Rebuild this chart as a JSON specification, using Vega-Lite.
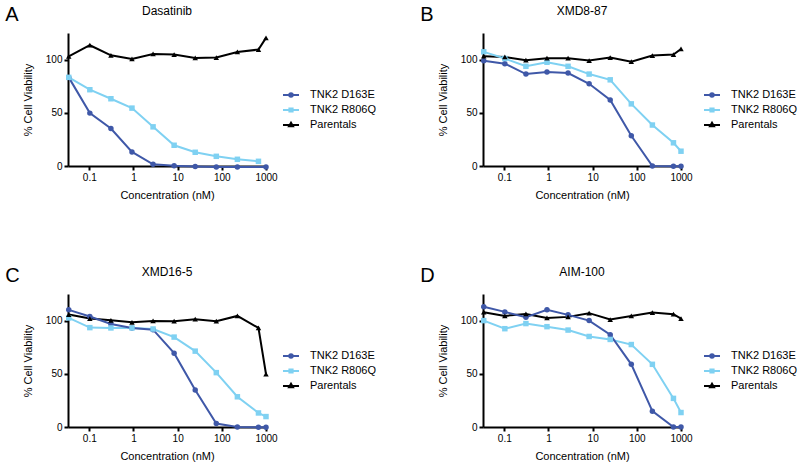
{
"$schema": "https://vega.github.io/schema/vega-lite/v6.json",
"background": "white",
"config": {
  "font": "Liberation Sans",
  "view": {"stroke": null},
  "axis": {"domainColor": "black", "domainWidth": 2, "tickColor": "black", "tickWidth": 2, "tickSize": 4, "labelFont": "Liberation Sans", "labelFontSize": 10, "labelColor": "black", "labelPadding": 2, "labelFlush": false, "titleFont": "Liberation Sans", "titleFontSize": 11, "titleFontWeight": "normal", "titleColor": "black", "grid": false},
  "axisX": {"titlePadding": 7},
  "axisY": {"titlePadding": 12},
  "title": {"font": "Liberation Sans", "fontWeight": "normal", "color": "black"},
  "legend": {"labelFont": "Liberation Sans", "labelFontSize": 11, "labelColor": "black"}
},
"datasets": {
  "rows": [
    {"drug":"Dasatinib","series":"Parentals","conc":0.0343,"viability":103},
    {"drug":"Dasatinib","series":"Parentals","conc":0.103,"viability":113.5},
    {"drug":"Dasatinib","series":"Parentals","conc":0.309,"viability":104},
    {"drug":"Dasatinib","series":"Parentals","conc":0.926,"viability":100.6},
    {"drug":"Dasatinib","series":"Parentals","conc":2.78,"viability":105.3},
    {"drug":"Dasatinib","series":"Parentals","conc":8.33,"viability":104.7},
    {"drug":"Dasatinib","series":"Parentals","conc":25,"viability":101.6},
    {"drug":"Dasatinib","series":"Parentals","conc":75,"viability":101.9},
    {"drug":"Dasatinib","series":"Parentals","conc":225,"viability":107.2},
    {"drug":"Dasatinib","series":"Parentals","conc":675,"viability":109.4},
    {"drug":"Dasatinib","series":"Parentals","conc":1000,"viability":120.4},
    {"drug":"Dasatinib","series":"TNK2 R806Q","conc":0.0343,"viability":83.3},
    {"drug":"Dasatinib","series":"TNK2 R806Q","conc":0.103,"viability":71.7},
    {"drug":"Dasatinib","series":"TNK2 R806Q","conc":0.309,"viability":63.2},
    {"drug":"Dasatinib","series":"TNK2 R806Q","conc":0.926,"viability":54.4},
    {"drug":"Dasatinib","series":"TNK2 R806Q","conc":2.78,"viability":36.8},
    {"drug":"Dasatinib","series":"TNK2 R806Q","conc":8.33,"viability":19.5},
    {"drug":"Dasatinib","series":"TNK2 R806Q","conc":25,"viability":12.9},
    {"drug":"Dasatinib","series":"TNK2 R806Q","conc":75,"viability":9.1},
    {"drug":"Dasatinib","series":"TNK2 R806Q","conc":225,"viability":6.3},
    {"drug":"Dasatinib","series":"TNK2 R806Q","conc":675,"viability":4.4},
    {"drug":"Dasatinib","series":"TNK2 D163E","conc":0.0343,"viability":83.3},
    {"drug":"Dasatinib","series":"TNK2 D163E","conc":0.103,"viability":49.7},
    {"drug":"Dasatinib","series":"TNK2 D163E","conc":0.309,"viability":35.2},
    {"drug":"Dasatinib","series":"TNK2 D163E","conc":0.926,"viability":13.2},
    {"drug":"Dasatinib","series":"TNK2 D163E","conc":2.78,"viability":1.6},
    {"drug":"Dasatinib","series":"TNK2 D163E","conc":8.33,"viability":0.3},
    {"drug":"Dasatinib","series":"TNK2 D163E","conc":25,"viability":-0.5},
    {"drug":"Dasatinib","series":"TNK2 D163E","conc":75,"viability":-1},
    {"drug":"Dasatinib","series":"TNK2 D163E","conc":225,"viability":-1},
    {"drug":"Dasatinib","series":"TNK2 D163E","conc":1000,"viability":-1},
    {"drug":"XMD8-87","series":"Parentals","conc":0.0343,"viability":103.2},
    {"drug":"XMD8-87","series":"Parentals","conc":0.103,"viability":102.5},
    {"drug":"XMD8-87","series":"Parentals","conc":0.309,"viability":99.4},
    {"drug":"XMD8-87","series":"Parentals","conc":0.926,"viability":101.3},
    {"drug":"XMD8-87","series":"Parentals","conc":2.78,"viability":101.3},
    {"drug":"XMD8-87","series":"Parentals","conc":8.33,"viability":99.1},
    {"drug":"XMD8-87","series":"Parentals","conc":25,"viability":101.9},
    {"drug":"XMD8-87","series":"Parentals","conc":75,"viability":98.1},
    {"drug":"XMD8-87","series":"Parentals","conc":225,"viability":103.8},
    {"drug":"XMD8-87","series":"Parentals","conc":675,"viability":104.7},
    {"drug":"XMD8-87","series":"Parentals","conc":1000,"viability":110},
    {"drug":"XMD8-87","series":"TNK2 R806Q","conc":0.0343,"viability":107.3},
    {"drug":"XMD8-87","series":"TNK2 R806Q","conc":0.103,"viability":101},
    {"drug":"XMD8-87","series":"TNK2 R806Q","conc":0.309,"viability":93.7},
    {"drug":"XMD8-87","series":"TNK2 R806Q","conc":0.926,"viability":97.5},
    {"drug":"XMD8-87","series":"TNK2 R806Q","conc":2.78,"viability":93.7},
    {"drug":"XMD8-87","series":"TNK2 R806Q","conc":8.33,"viability":86.4},
    {"drug":"XMD8-87","series":"TNK2 R806Q","conc":25,"viability":81},
    {"drug":"XMD8-87","series":"TNK2 R806Q","conc":75,"viability":58.4},
    {"drug":"XMD8-87","series":"TNK2 R806Q","conc":225,"viability":38.5},
    {"drug":"XMD8-87","series":"TNK2 R806Q","conc":675,"viability":21.8},
    {"drug":"XMD8-87","series":"TNK2 R806Q","conc":1000,"viability":13.9},
    {"drug":"XMD8-87","series":"TNK2 D163E","conc":0.0343,"viability":99},
    {"drug":"XMD8-87","series":"TNK2 D163E","conc":0.103,"viability":96.2},
    {"drug":"XMD8-87","series":"TNK2 D163E","conc":0.309,"viability":86.4},
    {"drug":"XMD8-87","series":"TNK2 D163E","conc":0.926,"viability":88.3},
    {"drug":"XMD8-87","series":"TNK2 D163E","conc":2.78,"viability":87.4},
    {"drug":"XMD8-87","series":"TNK2 D163E","conc":8.33,"viability":77.3},
    {"drug":"XMD8-87","series":"TNK2 D163E","conc":25,"viability":62.1},
    {"drug":"XMD8-87","series":"TNK2 D163E","conc":75,"viability":28.4},
    {"drug":"XMD8-87","series":"TNK2 D163E","conc":225,"viability":0},
    {"drug":"XMD8-87","series":"TNK2 D163E","conc":675,"viability":-0.3},
    {"drug":"XMD8-87","series":"TNK2 D163E","conc":1000,"viability":-0.3},
    {"drug":"XMD16-5","series":"Parentals","conc":0.0343,"viability":105.7},
    {"drug":"XMD16-5","series":"Parentals","conc":0.103,"viability":101.9},
    {"drug":"XMD16-5","series":"Parentals","conc":0.309,"viability":100.3},
    {"drug":"XMD16-5","series":"Parentals","conc":0.926,"viability":98.4},
    {"drug":"XMD16-5","series":"Parentals","conc":2.78,"viability":99.7},
    {"drug":"XMD16-5","series":"Parentals","conc":8.33,"viability":99.4},
    {"drug":"XMD16-5","series":"Parentals","conc":25,"viability":101.3},
    {"drug":"XMD16-5","series":"Parentals","conc":75,"viability":99.4},
    {"drug":"XMD16-5","series":"Parentals","conc":225,"viability":104.4},
    {"drug":"XMD16-5","series":"Parentals","conc":675,"viability":93.1},
    {"drug":"XMD16-5","series":"Parentals","conc":1000,"viability":49.8},
    {"drug":"XMD16-5","series":"TNK2 R806Q","conc":0.0343,"viability":102.5},
    {"drug":"XMD16-5","series":"TNK2 R806Q","conc":0.103,"viability":93.4},
    {"drug":"XMD16-5","series":"TNK2 R806Q","conc":0.309,"viability":93.1},
    {"drug":"XMD16-5","series":"TNK2 R806Q","conc":0.926,"viability":93.1},
    {"drug":"XMD16-5","series":"TNK2 R806Q","conc":2.78,"viability":92.1},
    {"drug":"XMD16-5","series":"TNK2 R806Q","conc":8.33,"viability":84.5},
    {"drug":"XMD16-5","series":"TNK2 R806Q","conc":25,"viability":71.3},
    {"drug":"XMD16-5","series":"TNK2 R806Q","conc":75,"viability":51.1},
    {"drug":"XMD16-5","series":"TNK2 R806Q","conc":225,"viability":28.4},
    {"drug":"XMD16-5","series":"TNK2 R806Q","conc":675,"viability":13.2},
    {"drug":"XMD16-5","series":"TNK2 R806Q","conc":1000,"viability":9.8},
    {"drug":"XMD16-5","series":"TNK2 D163E","conc":0.0343,"viability":110.1},
    {"drug":"XMD16-5","series":"TNK2 D163E","conc":0.103,"viability":103.8},
    {"drug":"XMD16-5","series":"TNK2 D163E","conc":0.309,"viability":96.8},
    {"drug":"XMD16-5","series":"TNK2 D163E","conc":0.926,"viability":93},
    {"drug":"XMD16-5","series":"TNK2 D163E","conc":2.78,"viability":91.5},
    {"drug":"XMD16-5","series":"TNK2 D163E","conc":8.33,"viability":69.4},
    {"drug":"XMD16-5","series":"TNK2 D163E","conc":25,"viability":34.7},
    {"drug":"XMD16-5","series":"TNK2 D163E","conc":75,"viability":3.2},
    {"drug":"XMD16-5","series":"TNK2 D163E","conc":225,"viability":0},
    {"drug":"XMD16-5","series":"TNK2 D163E","conc":675,"viability":-0.3},
    {"drug":"XMD16-5","series":"TNK2 D163E","conc":1000,"viability":-0.3},
    {"drug":"AIM-100","series":"Parentals","conc":0.0343,"viability":107.9},
    {"drug":"AIM-100","series":"Parentals","conc":0.103,"viability":104.4},
    {"drug":"AIM-100","series":"Parentals","conc":0.309,"viability":106.3},
    {"drug":"AIM-100","series":"Parentals","conc":0.926,"viability":102.5},
    {"drug":"AIM-100","series":"Parentals","conc":2.78,"viability":103.5},
    {"drug":"AIM-100","series":"Parentals","conc":8.33,"viability":107},
    {"drug":"AIM-100","series":"Parentals","conc":25,"viability":101},
    {"drug":"AIM-100","series":"Parentals","conc":75,"viability":104.4},
    {"drug":"AIM-100","series":"Parentals","conc":225,"viability":107.6},
    {"drug":"AIM-100","series":"Parentals","conc":675,"viability":106},
    {"drug":"AIM-100","series":"Parentals","conc":1000,"viability":101.9},
    {"drug":"AIM-100","series":"TNK2 R806Q","conc":0.0343,"viability":100},
    {"drug":"AIM-100","series":"TNK2 R806Q","conc":0.103,"viability":92.4},
    {"drug":"AIM-100","series":"TNK2 R806Q","conc":0.309,"viability":97.2},
    {"drug":"AIM-100","series":"TNK2 R806Q","conc":0.926,"viability":94.3},
    {"drug":"AIM-100","series":"TNK2 R806Q","conc":2.78,"viability":91.1},
    {"drug":"AIM-100","series":"TNK2 R806Q","conc":8.33,"viability":85.1},
    {"drug":"AIM-100","series":"TNK2 R806Q","conc":25,"viability":82.3},
    {"drug":"AIM-100","series":"TNK2 R806Q","conc":75,"viability":77.5},
    {"drug":"AIM-100","series":"TNK2 R806Q","conc":225,"viability":58.9},
    {"drug":"AIM-100","series":"TNK2 R806Q","conc":675,"viability":26.9},
    {"drug":"AIM-100","series":"TNK2 R806Q","conc":1000,"viability":13.6},
    {"drug":"AIM-100","series":"TNK2 D163E","conc":0.0343,"viability":113},
    {"drug":"AIM-100","series":"TNK2 D163E","conc":0.103,"viability":108.2},
    {"drug":"AIM-100","series":"TNK2 D163E","conc":0.309,"viability":103.2},
    {"drug":"AIM-100","series":"TNK2 D163E","conc":0.926,"viability":110.1},
    {"drug":"AIM-100","series":"TNK2 D163E","conc":2.78,"viability":105.4},
    {"drug":"AIM-100","series":"TNK2 D163E","conc":8.33,"viability":100},
    {"drug":"AIM-100","series":"TNK2 D163E","conc":25,"viability":86.7},
    {"drug":"AIM-100","series":"TNK2 D163E","conc":75,"viability":58.9},
    {"drug":"AIM-100","series":"TNK2 D163E","conc":225,"viability":14.9},
    {"drug":"AIM-100","series":"TNK2 D163E","conc":675,"viability":0},
    {"drug":"AIM-100","series":"TNK2 D163E","conc":1000,"viability":0}
  ]
},
"columns": 2,
"spacing": {"row": 66, "column": 43},
"resolve": {"scale": {"fill": "independent", "stroke": "independent", "shape": "independent"}, "legend": {"fill": "independent", "stroke": "independent", "shape": "independent"}},
"concat": [
  {"title": {"text": "A", "anchor": "start", "fontSize": 20, "offset": -20, "dx": -17},
   "resolve": {"scale": {"fill": "independent", "stroke": "independent", "shape": "independent"}, "legend": {"fill": "independent", "stroke": "independent", "shape": "independent"}},
   "vconcat": [{
    "width": 198, "height": 133,
    "title": {"text": "Dasatinib", "anchor": "middle", "frame": "group", "fontSize": 12, "offset": 15},
    "data": {"name": "rows"},
    "transform": [{"filter": {"field": "drug", "equal": "Dasatinib"}}],
    "encoding": {
      "x": {"field": "conc", "type": "quantitative", "scale": {"type": "log", "domain": [0.033, 1000], "nice": false}, "axis": {"values": [0.1, 1, 10, 100, 1000], "format": "~g", "title": "Concentration (nM)"}},
      "y": {"field": "viability", "type": "quantitative", "scale": {"domain": [0, 125], "nice": false}, "axis": {"values": [0, 50, 100], "title": "% Cell Viability"}}
    },
    "layer": [
      {"transform": [{"filter": "false"}], "mark": {"type": "point", "filled": true, "opacity": 1, "strokeWidth": 2},
       "encoding": {
        "fill": {"field": "series", "type": "nominal", "scale": {"domain": ["TNK2 D163E", "TNK2 R806Q", "Parentals"], "range": ["#3F58A8", "#7FD1F2", "#000000"]}, "legend": {"orient": "none", "legendX": 214, "legendY": 53, "title": null, "symbolSize": 256, "symbolStrokeWidth": 2, "labelOffset": 10, "rowPadding": 0}},
        "stroke": {"field": "series", "type": "nominal", "scale": {"domain": ["TNK2 D163E", "TNK2 R806Q", "Parentals"], "range": ["#3F58A8", "#7FD1F2", "#000000"]}, "legend": {"orient": "none", "legendX": 214, "legendY": 53, "title": null, "symbolSize": 256, "symbolStrokeWidth": 2, "labelOffset": 10, "rowPadding": 0}},
        "shape": {"field": "series", "type": "nominal", "scale": {"domain": ["TNK2 D163E", "TNK2 R806Q", "Parentals"], "range": ["M-1,0H1M0.22,0A0.22,0.22,0,1,1,-0.22,0A0.22,0.22,0,1,1,0.22,0Z", "M-1,0H1M-0.2,-0.2H0.2V0.2H-0.2Z", "M-1,0H1M0,-0.28L0.25,0.16H-0.25Z"]}, "legend": {"orient": "none", "legendX": 214, "legendY": 53, "title": null, "symbolSize": 256, "symbolStrokeWidth": 2, "labelOffset": 10, "rowPadding": 0}}
       }},
      {"mark": {"type": "line", "strokeWidth": 2}, "encoding": {"stroke": {"field": "series", "type": "nominal", "legend": null}}},
      {"transform": [{"filter": {"field": "series", "equal": "TNK2 D163E"}}], "mark": {"type": "circle", "size": 30, "opacity": 1}, "encoding": {"fill": {"field": "series", "type": "nominal", "legend": null}}},
      {"transform": [{"filter": {"field": "series", "equal": "TNK2 R806Q"}}], "mark": {"type": "square", "size": 30, "opacity": 1}, "encoding": {"fill": {"field": "series", "type": "nominal", "legend": null}}},
      {"transform": [{"filter": {"field": "series", "equal": "Parentals"}}], "mark": {"type": "point", "shape": "triangle-up", "filled": true, "size": 30, "opacity": 1}, "encoding": {"fill": {"field": "series", "type": "nominal", "legend": null}}}
    ]
   }]
  },
  {"title": {"text": "B", "anchor": "start", "fontSize": 20, "offset": -20, "dx": -17},
   "resolve": {"scale": {"fill": "independent", "stroke": "independent", "shape": "independent"}, "legend": {"fill": "independent", "stroke": "independent", "shape": "independent"}},
   "vconcat": [{
    "width": 198, "height": 133,
    "title": {"text": "XMD8-87", "anchor": "middle", "frame": "group", "fontSize": 12, "offset": 15},
    "data": {"name": "rows"},
    "transform": [{"filter": {"field": "drug", "equal": "XMD8-87"}}],
    "encoding": {
      "x": {"field": "conc", "type": "quantitative", "scale": {"type": "log", "domain": [0.033, 1000], "nice": false}, "axis": {"values": [0.1, 1, 10, 100, 1000], "format": "~g", "title": "Concentration (nM)"}},
      "y": {"field": "viability", "type": "quantitative", "scale": {"domain": [0, 125], "nice": false}, "axis": {"values": [0, 50, 100], "title": "% Cell Viability"}}
    },
    "layer": [
      {"transform": [{"filter": "false"}], "mark": {"type": "point", "filled": true, "opacity": 1, "strokeWidth": 2},
       "encoding": {
        "fill": {"field": "series", "type": "nominal", "scale": {"domain": ["TNK2 D163E", "TNK2 R806Q", "Parentals"], "range": ["#3F58A8", "#7FD1F2", "#000000"]}, "legend": {"orient": "none", "legendX": 220, "legendY": 53, "title": null, "symbolSize": 256, "symbolStrokeWidth": 2, "labelOffset": 10, "rowPadding": 0}},
        "stroke": {"field": "series", "type": "nominal", "scale": {"domain": ["TNK2 D163E", "TNK2 R806Q", "Parentals"], "range": ["#3F58A8", "#7FD1F2", "#000000"]}, "legend": {"orient": "none", "legendX": 220, "legendY": 53, "title": null, "symbolSize": 256, "symbolStrokeWidth": 2, "labelOffset": 10, "rowPadding": 0}},
        "shape": {"field": "series", "type": "nominal", "scale": {"domain": ["TNK2 D163E", "TNK2 R806Q", "Parentals"], "range": ["M-1,0H1M0.22,0A0.22,0.22,0,1,1,-0.22,0A0.22,0.22,0,1,1,0.22,0Z", "M-1,0H1M-0.2,-0.2H0.2V0.2H-0.2Z", "M-1,0H1M0,-0.28L0.25,0.16H-0.25Z"]}, "legend": {"orient": "none", "legendX": 220, "legendY": 53, "title": null, "symbolSize": 256, "symbolStrokeWidth": 2, "labelOffset": 10, "rowPadding": 0}}
       }},
      {"mark": {"type": "line", "strokeWidth": 2}, "encoding": {"stroke": {"field": "series", "type": "nominal", "legend": null}}},
      {"transform": [{"filter": {"field": "series", "equal": "TNK2 D163E"}}], "mark": {"type": "circle", "size": 30, "opacity": 1}, "encoding": {"fill": {"field": "series", "type": "nominal", "legend": null}}},
      {"transform": [{"filter": {"field": "series", "equal": "TNK2 R806Q"}}], "mark": {"type": "square", "size": 30, "opacity": 1}, "encoding": {"fill": {"field": "series", "type": "nominal", "legend": null}}},
      {"transform": [{"filter": {"field": "series", "equal": "Parentals"}}], "mark": {"type": "point", "shape": "triangle-up", "filled": true, "size": 30, "opacity": 1}, "encoding": {"fill": {"field": "series", "type": "nominal", "legend": null}}}
    ]
   }]
  },
  {"title": {"text": "C", "anchor": "start", "fontSize": 20, "offset": -20, "dx": -17},
   "resolve": {"scale": {"fill": "independent", "stroke": "independent", "shape": "independent"}, "legend": {"fill": "independent", "stroke": "independent", "shape": "independent"}},
   "vconcat": [{
    "width": 198, "height": 133,
    "title": {"text": "XMD16-5", "anchor": "middle", "frame": "group", "fontSize": 12, "offset": 15},
    "data": {"name": "rows"},
    "transform": [{"filter": {"field": "drug", "equal": "XMD16-5"}}],
    "encoding": {
      "x": {"field": "conc", "type": "quantitative", "scale": {"type": "log", "domain": [0.033, 1000], "nice": false}, "axis": {"values": [0.1, 1, 10, 100, 1000], "format": "~g", "title": "Concentration (nM)"}},
      "y": {"field": "viability", "type": "quantitative", "scale": {"domain": [0, 125], "nice": false}, "axis": {"values": [0, 50, 100], "title": "% Cell Viability"}}
    },
    "layer": [
      {"transform": [{"filter": "false"}], "mark": {"type": "point", "filled": true, "opacity": 1, "strokeWidth": 2},
       "encoding": {
        "fill": {"field": "series", "type": "nominal", "scale": {"domain": ["TNK2 D163E", "TNK2 R806Q", "Parentals"], "range": ["#3F58A8", "#7FD1F2", "#000000"]}, "legend": {"orient": "none", "legendX": 214, "legendY": 53, "title": null, "symbolSize": 256, "symbolStrokeWidth": 2, "labelOffset": 10, "rowPadding": 0}},
        "stroke": {"field": "series", "type": "nominal", "scale": {"domain": ["TNK2 D163E", "TNK2 R806Q", "Parentals"], "range": ["#3F58A8", "#7FD1F2", "#000000"]}, "legend": {"orient": "none", "legendX": 214, "legendY": 53, "title": null, "symbolSize": 256, "symbolStrokeWidth": 2, "labelOffset": 10, "rowPadding": 0}},
        "shape": {"field": "series", "type": "nominal", "scale": {"domain": ["TNK2 D163E", "TNK2 R806Q", "Parentals"], "range": ["M-1,0H1M0.22,0A0.22,0.22,0,1,1,-0.22,0A0.22,0.22,0,1,1,0.22,0Z", "M-1,0H1M-0.2,-0.2H0.2V0.2H-0.2Z", "M-1,0H1M0,-0.28L0.25,0.16H-0.25Z"]}, "legend": {"orient": "none", "legendX": 214, "legendY": 53, "title": null, "symbolSize": 256, "symbolStrokeWidth": 2, "labelOffset": 10, "rowPadding": 0}}
       }},
      {"mark": {"type": "line", "strokeWidth": 2}, "encoding": {"stroke": {"field": "series", "type": "nominal", "legend": null}}},
      {"transform": [{"filter": {"field": "series", "equal": "TNK2 D163E"}}], "mark": {"type": "circle", "size": 30, "opacity": 1}, "encoding": {"fill": {"field": "series", "type": "nominal", "legend": null}}},
      {"transform": [{"filter": {"field": "series", "equal": "TNK2 R806Q"}}], "mark": {"type": "square", "size": 30, "opacity": 1}, "encoding": {"fill": {"field": "series", "type": "nominal", "legend": null}}},
      {"transform": [{"filter": {"field": "series", "equal": "Parentals"}}], "mark": {"type": "point", "shape": "triangle-up", "filled": true, "size": 30, "opacity": 1}, "encoding": {"fill": {"field": "series", "type": "nominal", "legend": null}}}
    ]
   }]
  },
  {"title": {"text": "D", "anchor": "start", "fontSize": 20, "offset": -20, "dx": -17},
   "resolve": {"scale": {"fill": "independent", "stroke": "independent", "shape": "independent"}, "legend": {"fill": "independent", "stroke": "independent", "shape": "independent"}},
   "vconcat": [{
    "width": 198, "height": 133,
    "title": {"text": "AIM-100", "anchor": "middle", "frame": "group", "fontSize": 12, "offset": 15},
    "data": {"name": "rows"},
    "transform": [{"filter": {"field": "drug", "equal": "AIM-100"}}],
    "encoding": {
      "x": {"field": "conc", "type": "quantitative", "scale": {"type": "log", "domain": [0.033, 1000], "nice": false}, "axis": {"values": [0.1, 1, 10, 100, 1000], "format": "~g", "title": "Concentration (nM)"}},
      "y": {"field": "viability", "type": "quantitative", "scale": {"domain": [0, 125], "nice": false}, "axis": {"values": [0, 50, 100], "title": "% Cell Viability"}}
    },
    "layer": [
      {"transform": [{"filter": "false"}], "mark": {"type": "point", "filled": true, "opacity": 1, "strokeWidth": 2},
       "encoding": {
        "fill": {"field": "series", "type": "nominal", "scale": {"domain": ["TNK2 D163E", "TNK2 R806Q", "Parentals"], "range": ["#3F58A8", "#7FD1F2", "#000000"]}, "legend": {"orient": "none", "legendX": 220, "legendY": 53, "title": null, "symbolSize": 256, "symbolStrokeWidth": 2, "labelOffset": 10, "rowPadding": 0}},
        "stroke": {"field": "series", "type": "nominal", "scale": {"domain": ["TNK2 D163E", "TNK2 R806Q", "Parentals"], "range": ["#3F58A8", "#7FD1F2", "#000000"]}, "legend": {"orient": "none", "legendX": 220, "legendY": 53, "title": null, "symbolSize": 256, "symbolStrokeWidth": 2, "labelOffset": 10, "rowPadding": 0}},
        "shape": {"field": "series", "type": "nominal", "scale": {"domain": ["TNK2 D163E", "TNK2 R806Q", "Parentals"], "range": ["M-1,0H1M0.22,0A0.22,0.22,0,1,1,-0.22,0A0.22,0.22,0,1,1,0.22,0Z", "M-1,0H1M-0.2,-0.2H0.2V0.2H-0.2Z", "M-1,0H1M0,-0.28L0.25,0.16H-0.25Z"]}, "legend": {"orient": "none", "legendX": 220, "legendY": 53, "title": null, "symbolSize": 256, "symbolStrokeWidth": 2, "labelOffset": 10, "rowPadding": 0}}
       }},
      {"mark": {"type": "line", "strokeWidth": 2}, "encoding": {"stroke": {"field": "series", "type": "nominal", "legend": null}}},
      {"transform": [{"filter": {"field": "series", "equal": "TNK2 D163E"}}], "mark": {"type": "circle", "size": 30, "opacity": 1}, "encoding": {"fill": {"field": "series", "type": "nominal", "legend": null}}},
      {"transform": [{"filter": {"field": "series", "equal": "TNK2 R806Q"}}], "mark": {"type": "square", "size": 30, "opacity": 1}, "encoding": {"fill": {"field": "series", "type": "nominal", "legend": null}}},
      {"transform": [{"filter": {"field": "series", "equal": "Parentals"}}], "mark": {"type": "point", "shape": "triangle-up", "filled": true, "size": 30, "opacity": 1}, "encoding": {"fill": {"field": "series", "type": "nominal", "legend": null}}}
    ]
   }]
  }
]
}
